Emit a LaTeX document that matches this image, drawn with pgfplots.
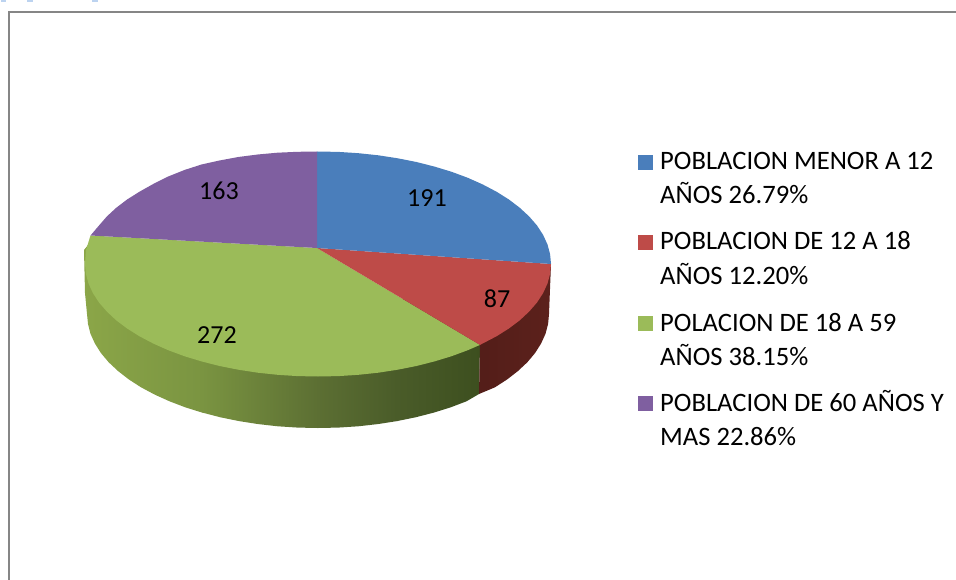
\documentclass[border=0pt]{standalone}
\usepackage{fontspec}
\setmainfont{Carlito}
\usepackage{pgfplots}
\pgfplotsset{compat=1.18}
\definecolor{cblue}{HTML}{4A7EBB}
\definecolor{cred}{HTML}{BE4B48}
\definecolor{cgreen}{HTML}{9BBB59}
\definecolor{cpurple}{HTML}{7F5FA0}
\definecolor{frame}{HTML}{868686}
\definecolor{frag}{HTML}{BCD3F0}
\definecolor{gA}{HTML}{8BA648}
\definecolor{gB}{HTML}{7A9441}
\definecolor{gC}{HTML}{5C6F33}
\definecolor{gD}{HTML}{4A5C29}
\definecolor{gE}{HTML}{3D4F1F}
\definecolor{rA}{HTML}{5C211C}
\definecolor{rB}{HTML}{4A1A15}
\newcommand{\lab}[2]{\node[font=\fontsize{26}{26}\selectfont,anchor=center,inner sep=0pt] at (axis cs:#1) {#2};}
\newcommand{\leg}[2]{\node[font=\fontsize{26.6}{26.6}\selectfont,anchor=base west,inner sep=0pt] at (axis cs:#1) {#2};}
\begin{document}
\begin{tikzpicture}
\begin{axis}[
  scale only axis, width=956pt, height=580pt,
  xmin=0, xmax=956, ymin=0, ymax=580, y dir=reverse,
  axis lines=none, clip=true, ticks=none]
% title fragments cut by the top edge
\addplot[draw=frag, line width=2pt, forget plot] coordinates {(1,1) (6,1)};
\addplot[draw=frag, line width=2pt, forget plot] coordinates {(27,1) (33,1)};
\addplot[draw=frag, line width=2pt, forget plot] coordinates {(92,1) (98,1)};
% frame
\addplot[draw=frame, line width=2pt, forget plot] coordinates {(956,12) (9,12) (9,580)};
% side walls
\addplot[draw=none, shade, left color=gA, right color=gB, forget plot] coordinates {
 (202.5,412.7) (185.5,407.4) (169.5,401.3) (154.7,394.6) (141,387.3) (128.8,379.4) (118,371) (108.6,362.2) (100.9,353) (94.9,343.5) (90.5,333.8) (88,323.9) (87,314) (85,293) (84,250) (92,240) (202.5,300)} --cycle;
\addplot[draw=none, shade, left color=gB, right color=gC, forget plot] coordinates {
 (318,428) (297.9,427.6) (277.9,426.3) (258.2,424.1) (239,421.1) (220.4,417.3) (202,412.5) (202,300) (318,300)} --cycle;
\addplot[draw=none, shade, left color=gC, right color=gD, forget plot] coordinates {
 (397,421.1) (377.8,424.1) (358.1,426.3) (338.1,427.6) (318,428) (317.5,428) (317.5,300) (397,300)} --cycle;
\addplot[draw=none, shade, left color=gD, right color=gE, forget plot] coordinates {
 (480,345) (479,394) (466.5,401.3) (450.5,407.4) (433.5,412.7) (415.6,417.3) (397,421.1) (396.5,421.2) (396.5,300) (480,300)} --cycle;
\addplot[draw=none, shade, left color=rB, right color=rA, forget plot] coordinates {
 (551,264) (549,314) (548.1,323.9) (545.5,333.8) (541.1,343.5) (535.1,353) (527.4,362.2) (518,371) (507.2,379.4) (495,387.3) (479,394) (480,345) (400,300)} --cycle;
% top faces
\addplot[draw=none, fill=cgreen, forget plot] coordinates {
 (317,248) (480,344.9) (467.8,350.2) (451.6,356.2) (434.5,361.4) (416.5,366) (397.7,369.7) (378.3,372.7) (358.5,374.8) (338.3,376.1) (318,376.5) (297.7,376.1) (277.5,374.8) (257.7,372.7) (238.3,369.7) (219.5,366) (201.5,361.4) (184.4,356.2) (168.2,350.2) (153.2,343.5) (139.5,336.3) (127.1,328.5) (116.2,320.3) (106.8,311.5) (99,302.5) (92.9,293.1) (88.5,283.5) (85.9,273.8) (85,264) (86,250) (90.5,235.5)} --cycle;
\addplot[draw=none, fill=cred, forget plot] coordinates {
 (317,248) (551,264) (550.1,273.8) (547.5,283.5) (543.1,293.1) (537,302.5) (529.2,311.5) (519.8,320.3) (508.9,328.5) (496.5,336.3) (480,344.9)} --cycle;
\addplot[draw=none, fill=cblue, forget plot] coordinates {
 (317,248) (317,151.5) (338.3,151.9) (358.5,153.2) (378.3,155.3) (397.7,158.3) (416.5,162) (434.5,166.6) (451.6,171.8) (467.8,177.8) (482.8,184.5) (496.5,191.7) (508.9,199.5) (519.8,207.8) (529.2,216.5) (537,225.5) (543.1,234.9) (547.5,244.5) (550.1,254.2) (551,264)} --cycle;
\addplot[draw=none, fill=cpurple, forget plot] coordinates {
 (317,248) (90.5,235.5) (99,225.5) (106.8,216.5) (116.2,207.8) (127.1,199.5) (139.5,191.7) (153.2,184) (168.2,176.5) (184.4,170) (201.5,164.5) (219.5,160.5) (238.3,157) (257.7,154.5) (277.5,152.7) (297.7,151.8) (317,151.5)} --cycle;
% legend squares
\addplot[draw=none, fill=cblue, forget plot] coordinates {(638,155) (653,155) (653,170) (638,170)} --cycle;
\addplot[draw=none, fill=cred, forget plot] coordinates {(638,235) (653,235) (653,250) (638,250)} --cycle;
\addplot[draw=none, fill=cgreen, forget plot] coordinates {(638,316) (653,316) (653,331) (638,331)} --cycle;
\addplot[draw=none, fill=cpurple, forget plot] coordinates {(638,396) (653,396) (653,411) (638,411)} --cycle;
% data labels
\lab{427,198}{191}
\lab{497,299}{87}
\lab{217,335}{272}
\lab{219,191}{163}
% legend texts
\leg{660,170}{POBLACION MENOR A 12}
\leg{660,204}{AÑOS 26.79\%}
\leg{660,250}{POBLACION DE 12 A 18}
\leg{660,284}{AÑOS 12.20\%}
\leg{660,331}{POLACION DE 18 A 59}
\leg{660,365}{AÑOS 38.15\%}
\leg{660,411}{POBLACION DE 60 AÑOS Y}
\leg{660,445}{MAS 22.86\%}
\end{axis}
\end{tikzpicture}
\end{document}
